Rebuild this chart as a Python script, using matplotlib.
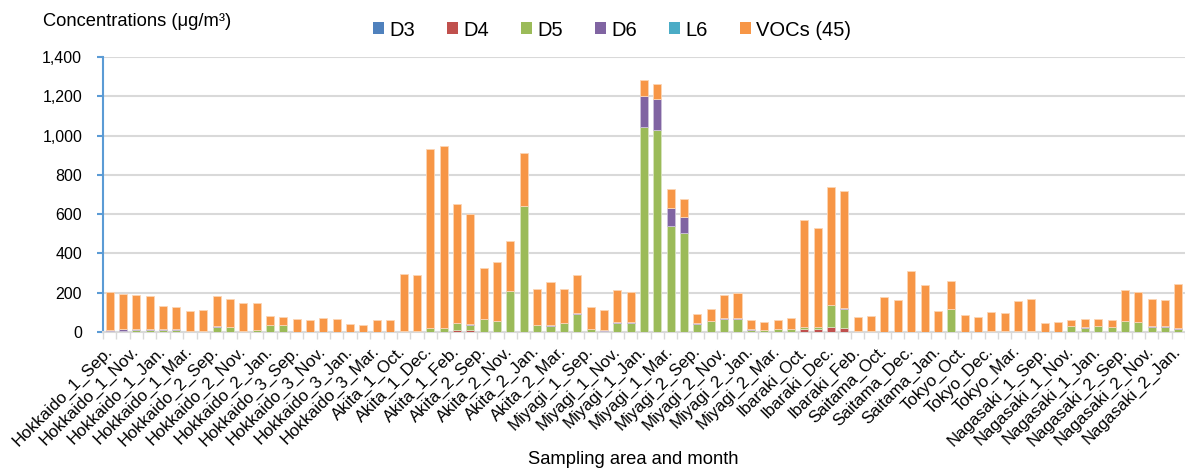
import matplotlib.pyplot as plt
import numpy as np
from matplotlib.patches import Patch
from matplotlib.ticker import FuncFormatter

plt.rcParams["font.family"] = ["Liberation Sans", "DejaVu Sans"]

# labels shown under every second bar
labels = [
    "Hokkaido_1_Sep.", "Hokkaido_1_Nov.", "Hokkaido_1_Jan.", "Hokkaido_1_Mar.",
    "Hokkaido_2_Sep.", "Hokkaido_2_Nov.", "Hokkaido_2_Jan.", "Hokkaido_3_Sep.",
    "Hokkaido_3_Nov.", "Hokkaido_3_Jan.", "Hokkaido_3_Mar.", "Akita_1_Oct.",
    "Akita_1_Dec.", "Akita_1_Feb.", "Akita_2_Sep.", "Akita_2_Nov.",
    "Akita_2_Jan.", "Akita_2_Mar.", "Miyagi_1_Sep.", "Miyagi_1_Nov.",
    "Miyagi_1_Jan.", "Miyagi_1_Mar.", "Miyagi_2_Sep.", "Miyagi_2_Nov.",
    "Miyagi_2_Jan.", "Miyagi_2_Mar.", "Ibaraki_Oct.", "Ibaraki_Dec.",
    "Ibaraki_Feb.", "Saitama_Oct.", "Saitama_Dec.", "Saitama_Jan.",
    "Tokyo_Oct.", "Tokyo_Dec.", "Tokyo_Mar.", "Nagasaki_1_Sep.",
    "Nagasaki_1_Nov.", "Nagasaki_1_Jan.", "Nagasaki_2_Sep.", "Nagasaki_2_Nov.",
    "Nagasaki_2_Jan.",
]

# total height of each stacked bar (81 bars)
total = [
    205, 195, 188, 185, 132, 127, 107, 110, 182, 168,
    147, 147, 80, 77, 65, 60, 71, 66, 41, 37,
    63, 63, 295, 288, 931, 948, 653, 600, 327, 358,
    463, 913, 219, 254, 217, 288, 125, 112, 214, 204,
    1283, 1265, 728, 675, 92, 118, 190, 197, 61, 53,
    59, 70, 570, 529, 738, 718, 76, 81, 178, 161,
    312, 238, 109, 261, 86, 78, 100, 95, 160, 168,
    44, 53, 59, 66, 65, 61, 214, 202, 168, 163,
    244,
]

d3 = [
    2, 2, 1, 1, 1, 1, 0, 0, 0, 0,
    0, 0, 0, 0, 0, 0, 0, 0, 0, 0,
    0, 0, 0, 0, 0, 0, 0, 0, 0, 0,
    0, 0, 0, 0, 0, 0, 0, 0, 0, 0,
    0, 0, 0, 0, 0, 0, 0, 0, 0, 0,
    0, 0, 0, 0, 0, 0, 0, 0, 0, 0,
    0, 0, 0, 0, 0, 0, 0, 0, 0, 0,
    0, 0, 0, 0, 0, 0, 0, 0, 0, 0,
    0,
]

d4 = [
    1, 3, 1, 1, 1, 1, 0, 0, 0, 0,
    0, 0, 0, 0, 0, 0, 0, 0, 0, 0,
    0, 0, 0, 0, 0, 0, 12, 12, 0, 0,
    0, 0, 0, 0, 0, 0, 0, 0, 0, 0,
    0, 0, 0, 0, 0, 0, 0, 0, 0, 0,
    0, 0, 15, 15, 27, 22, 0, 0, 0, 0,
    0, 0, 0, 0, 0, 0, 0, 0, 0, 0,
    0, 0, 0, 0, 0, 0, 0, 0, 0, 0,
    0,
]

d5 = [
    3, 2, 8, 8, 8, 7, 6, 6, 28, 24,
    6, 8, 34, 34, 1, 1, 1, 1, 1, 1,
    1, 1, 4, 3, 18, 18, 34, 26, 64, 57,
    210, 640, 35, 33, 47, 92, 13, 7, 48, 48,
    1045, 1030, 540, 502, 42, 55, 67, 67, 12, 8,
    16, 14, 10, 10, 108, 96, 4, 6, 1, 1,
    1, 2, 1, 118, 2, 2, 4, 3, 3, 3,
    1, 2, 30, 22, 30, 26, 56, 50, 28, 28,
    17,
]

d6 = [
    5, 6, 3, 3, 4, 4, 1, 1, 1, 1,
    1, 1, 1, 1, 0, 0, 0, 0, 0, 0,
    0, 0, 0, 0, 1, 1, 1, 1, 1, 1,
    1, 4, 1, 1, 1, 4, 1, 1, 1, 1,
    158, 158, 93, 86, 3, 3, 4, 4, 4, 3,
    1, 2, 2, 2, 2, 2, 0, 0, 0, 0,
    0, 0, 0, 0, 0, 0, 0, 0, 0, 0,
    0, 0, 1, 1, 1, 1, 1, 1, 1, 1,
    1,
]

l6 = [0] * 81

vocs = [t - a - b - c - d - e for t, a, b, c, d, e in zip(total, d3, d4, d5, d6, l6)]

series = ["D3", "D4", "D5", "D6", "L6", "VOCs (45)"]
colors = ["#4F81BD", "#C0504D", "#9BBB59", "#8064A2", "#4BACC6", "#F79646"]
edges = ["#B9CDE5", "#E6B9B8", "#D7E4BD", "#CCC1DA", "#B7DEE8", "#FCD5B5"]

fig = plt.figure(figsize=(11.85, 4.68), dpi=100)
ax = fig.add_axes([103 / 1185, 1 - 332 / 468, 1 - 103 / 1185, (332 - 57) / 468])

x = np.arange(len(total))
bottom = np.zeros(len(total))
for vals, c, ec in zip([d3, d4, d5, d6, l6, vocs], colors, edges):
    vals = np.array(vals, dtype=float)
    ax.bar(x, vals, width=0.6, bottom=bottom, color=c, edgecolor=ec, linewidth=0.6, zorder=3)
    bottom += vals

ax.set_xlim(-0.5, len(total) - 0.5)
ax.set_ylim(0, 1400)
ax.set_yticks(range(0, 1401, 200))
ax.yaxis.set_major_formatter(FuncFormatter(lambda v, p: f"{int(v):,}"))
ax.grid(axis="y", color="#D9D9D9", linewidth=1.5, zorder=0)

# category ticks between bars, labels on every second bar
ax.set_xticks(np.arange(-0.5, len(total), 1.0))
ax.set_xticklabels([])
ax.set_xticks(np.arange(0, len(total), 2), minor=True)
ax.set_xticklabels(labels, minor=True, rotation=45, ha="right", va="center",
                   rotation_mode="anchor", fontsize=12.2)
ax.tick_params(axis="x", which="major", length=5, color="#D9D9D9", width=1)
ax.tick_params(axis="x", which="minor", length=0, pad=12)
ax.tick_params(axis="y", length=4, color="#5B9BD5", width=1.5, labelsize=11.5, pad=11)

for s in ["top", "right"]:
    ax.spines[s].set_visible(False)
ax.spines["left"].set_color("#5B9BD5")
ax.spines["left"].set_linewidth(1.5)
ax.spines["bottom"].set_color("#D9D9D9")
ax.spines["bottom"].set_linewidth(1.5)

fig.text(43 / 1185, 1 - 22 / 468, "Concentrations (\u03bcg/m\u00b3)", fontsize=13.2, va="center")
fig.text(633 / 1185, 1 - 459 / 468, "Sampling area and month", fontsize=13.2, ha="center", va="center")

handles = [Patch(facecolor=c, edgecolor="none") for c in colors]
fig.legend(handles, series, loc="center", bbox_to_anchor=(612 / 1185, 1 - 30 / 468), ncol=6,
           frameon=False, fontsize=14.5, handlelength=0.55, handleheight=0.55,
           handletextpad=0.25, columnspacing=1.6)

plt.savefig("out.png", dpi=100)
plt.close()
